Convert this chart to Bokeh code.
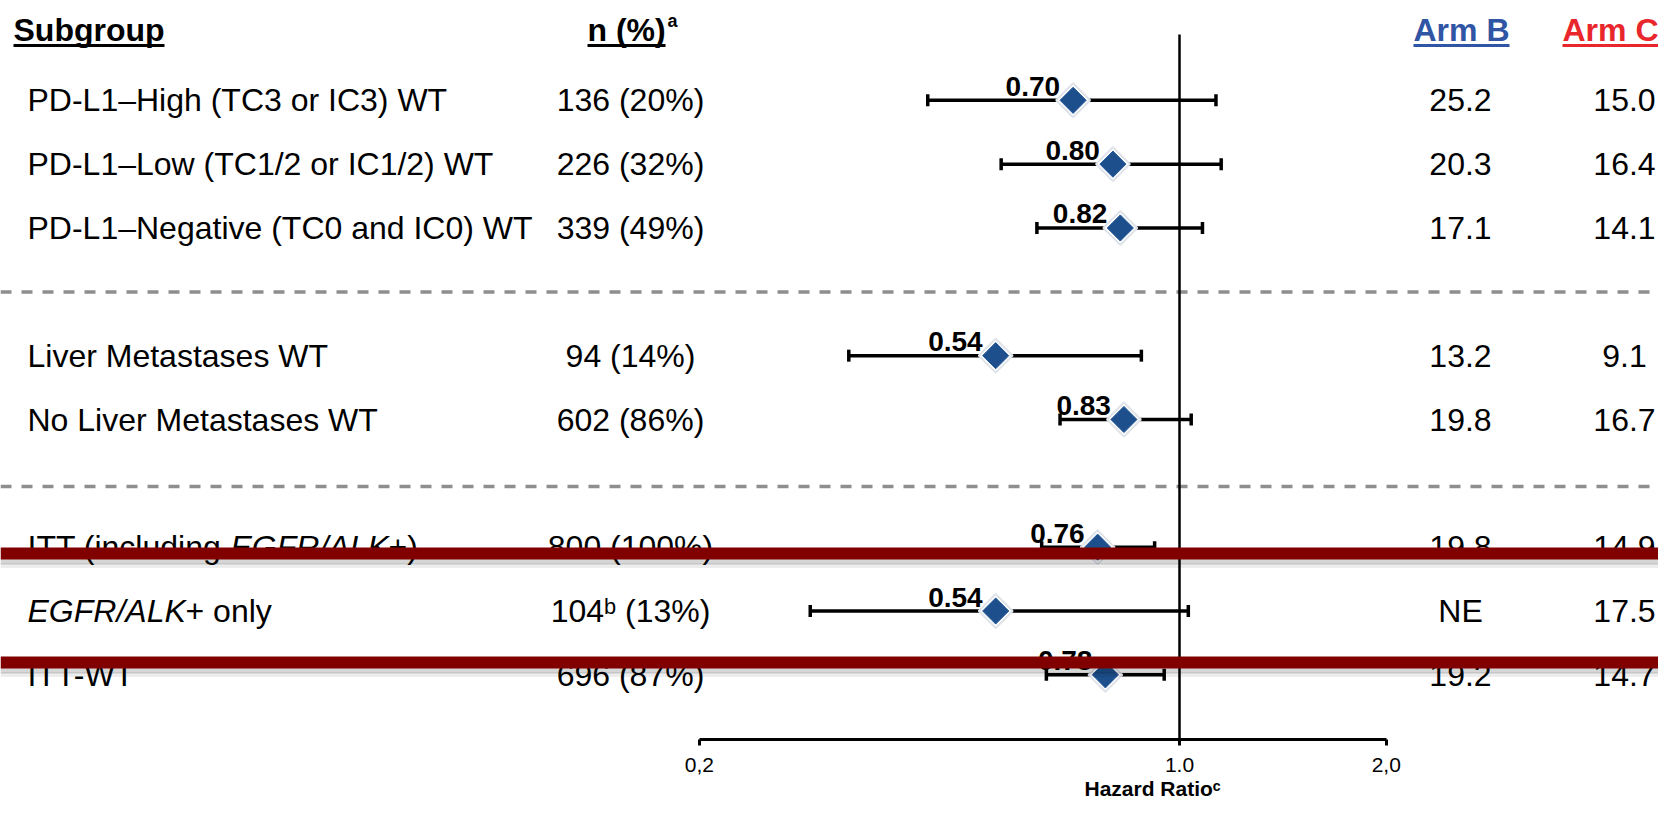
import math
from bokeh.plotting import figure
from bokeh.models import (Range1d, LogScale, LogAxis, FixedTicker, ColumnDataSource,
                          Whisker, TeeHead, Span, Title)
from bokeh.core.properties import value
from bokeh.embed import file_html
from bokeh.resources import INLINE

# ---------------- data ----------------
subgroups = [
    "PD-L1–High (TC3 or IC3) WT",
    "PD-L1–Low (TC1/2 or IC1/2) WT",
    "PD-L1–Negative (TC0 and IC0) WT",
    "Liver Metastases WT",
    "No Liver Metastases WT",
    "ITT (including _EGFR/ALK_+)",
    "_EGFR/ALK_+ only",
    "ITT-WT",
]
n_pct = ["136 (20%)", "226 (32%)", "339 (49%)", "94 (14%)", "602 (86%)",
         "800 (100%)", "104ᵇ (13%)", "696 (87%)"]
hazard_ratio = [0.70, 0.80, 0.82, 0.54, 0.83, 0.76, 0.54, 0.78]
ci_lower = [0.43, 0.55, 0.62, 0.33, 0.67, 0.63, 0.29, 0.64]
ci_upper = [1.13, 1.15, 1.08, 0.88, 1.04, 0.92, 1.03, 0.95]
arm_b_os = ["25.2", "20.3", "17.1", "13.2", "19.8", "19.8", "NE", "19.2"]
arm_c_os = ["15.0", "16.4", "14.1", "9.1", "16.7", "14.9", "17.5", "14.7"]
row_slot = [0, 1, 2, 4, 5, 7, 8, 9]          # vertical slot of each subgroup row
axis_ticks = [0.2, 1.0, 2.0]
axis_tick_labels = ["0,2", "1.0", "2,0"]
reference_hr = 1.0

# ---------------- layout (page pixels) ----------------
FONT = "Liberation Sans"
FIG_W, FIG_H = 1658, 804
PX0, PY0 = 0, 0
ROW0_PX, PITCH = 99.8, 63.84
AXIS_PY = 739
HR_ONE_PX, PX_PER_LN = 1179.0, 298.3


def slot_of(py):
    return (py - ROW0_PX) / PITCH


hr_start = math.exp((PX0 - HR_ONE_PX) / PX_PER_LN)
hr_end = math.exp((PX0 + FIG_W - HR_ONE_PX) / PX_PER_LN)

p = figure(width=FIG_W, height=FIG_H,
           x_range=Range1d(PX0, PX0 + FIG_W),
           y_range=Range1d(slot_of(AXIS_PY), slot_of(PY0)),
           x_axis_location=None, y_axis_location=None,
           output_backend="svg", toolbar_location=None,
           min_border_left=0, min_border_right=0, min_border_top=0,
           min_border_bottom=FIG_H - (AXIS_PY - PY0))
p.outline_line_color = None
p.background_fill_color = "white"
p.border_fill_color = "white"
p.grid.visible = False
p.extra_x_ranges = {"hr": Range1d(hr_start, hr_end)}
p.extra_x_scales = {"hr": LogScale()}

# HR axis
ax = LogAxis(x_range_name="hr", bounds=(axis_ticks[0], axis_ticks[-1]),
             ticker=FixedTicker(ticks=axis_ticks),
             major_label_overrides={t: l for t, l in zip(axis_ticks, axis_tick_labels)})
ax.axis_line_width = 3
ax.axis_line_color = "black"
ax.major_tick_line_width = 3
ax.major_tick_line_color = "black"
ax.major_tick_out = 6
ax.major_tick_in = 0
ax.minor_tick_line_color = None
ax.major_label_text_font = FONT
ax.major_label_text_font_size = "21px"
ax.major_label_text_color = "black"
ax.major_label_standoff = 12
p.add_layout(ax, "below")

p.add_layout(Title(text="Hazard Ratioᶜ", align="left", offset=1084, standoff=0,
                   text_font=FONT, text_font_size="21px", text_font_style="bold",
                   text_color="black"), "below")

# separators
for py in (291.5, 486):
    p.add_layout(Span(location=slot_of(py), dimension="width", line_color="#8e8e8e",
                      line_dash="11 10", line_width=3.5, level="underlay"))

# reference line at HR = 1
p.segment(x0=[reference_hr], x1=[reference_hr], y0=[slot_of(34)], y1=[slot_of(AXIS_PY)],
          x_range_name="hr", line_color="black", line_width=2.5)

src = ColumnDataSource(dict(
    y=row_slot, hr=hazard_ratio, lo=ci_lower, hi=ci_upper,
    hr_label=[f"{v:.2f}" for v in hazard_ratio],
    label_y=[s - 14 / PITCH for s in row_slot],
    n=n_pct, b=arm_b_os, c=arm_c_os,
))

p.add_layout(Whisker(source=src, base="y", lower="lo", upper="hi", dimension="width",
                     x_range_name="hr", line_color="black", line_width=3.5,
                     lower_head=TeeHead(size=12, line_width=3.5, line_color="black"),
                     upper_head=TeeHead(size=12, line_width=3.5, line_color="black")))

# diamonds with halo
p.scatter(x="hr", y="y", source=src, x_range_name="hr", marker="square", angle=math.pi / 4,
          size=24, fill_color="white", line_color="#dfe3ea", line_width=2)
p.scatter(x="hr", y="y", source=src, x_range_name="hr", marker="square", angle=math.pi / 4,
          size=18.5, fill_color="#1c4f8c", line_color="#24579a", line_width=1)

p.text(x="hr", y="label_y", text="hr_label", source=src, x_range_name="hr",
       text_align="right", text_baseline="middle", x_offset=-13,
       text_font=value(FONT), text_font_style="bold", text_font_size="28px",
       text_color="black")

# subgroup labels (with italic pieces)
piece_x = {5: [27, 230, 388], 6: [27, 185]}
xs, ys, ts, styles = [], [], [], []
for i, (lab, sl) in enumerate(zip(subgroups, row_slot)):
    parts = lab.split("_")
    xpos = piece_x.get(i, [27])
    k = 0
    for j, part in enumerate(parts):
        if part == "":
            continue
        xs.append(xpos[k]); ys.append(sl); ts.append(part)
        styles.append("italic" if j % 2 == 1 else "normal")
        k += 1
lab_src = ColumnDataSource(dict(x=xs, y=ys, t=ts, s=styles))
p.text(x="x", y="y", text="t", source=lab_src, text_font_style="s",
       text_align="left", text_baseline="middle", text_font=value(FONT),
       text_font_size="32px", text_color="black")

common = dict(text_baseline="middle", text_font=value(FONT), text_font_size="32px",
              text_color="black", text_align="center", source=src)
p.text(x=630, y="y", text="n", **common)
p.text(x=1460, y="y", text="b", **common)
p.text(x=1624, y="y", text="c", **common)

# headers
hy = slot_of(29)
uy = slot_of(45)
hdr = dict(text_baseline="middle", text_font=value(FONT), text_font_size="32px",
           text_font_style="bold")
p.text(x=[13], y=[hy], text=["Subgroup"], text_align="left", text_color="black", **hdr)
p.text(x=[587], y=[hy], text=["n (%)"], text_align="left", text_color="black", **hdr)
p.text(x=[667], y=[slot_of(20)], text=["a"], text_align="left", text_color="black",
       text_baseline="middle", text_font=value(FONT), text_font_size="18px",
       text_font_style="bold")
p.text(x=[1461], y=[hy], text=["Arm B"], text_align="center", text_color="#2f55a4", **hdr)
p.text(x=[1610], y=[hy], text=["Arm C"], text_align="center", text_color="#e8262b", **hdr)
p.segment(x0=[13, 587, 1413, 1562], x1=[164, 665, 1509, 1658], y0=[uy] * 4, y1=[uy] * 4,
          line_color=["black", "black", "#2f55a4", "#e8262b"], line_width=3.2)

# strike-through bands
for py in (553, 662):
    p.add_layout(Span(location=slot_of(py + 8), dimension="width", line_color="black",
                      line_alpha=0.16, line_width=6))
    p.add_layout(Span(location=slot_of(py + 12), dimension="width", line_color="black",
                      line_alpha=0.07, line_width=5))
    p.add_layout(Span(location=slot_of(py), dimension="width", line_color="#800000",
                      line_width=12))

open("out.html", "w").write(file_html(p, INLINE))
